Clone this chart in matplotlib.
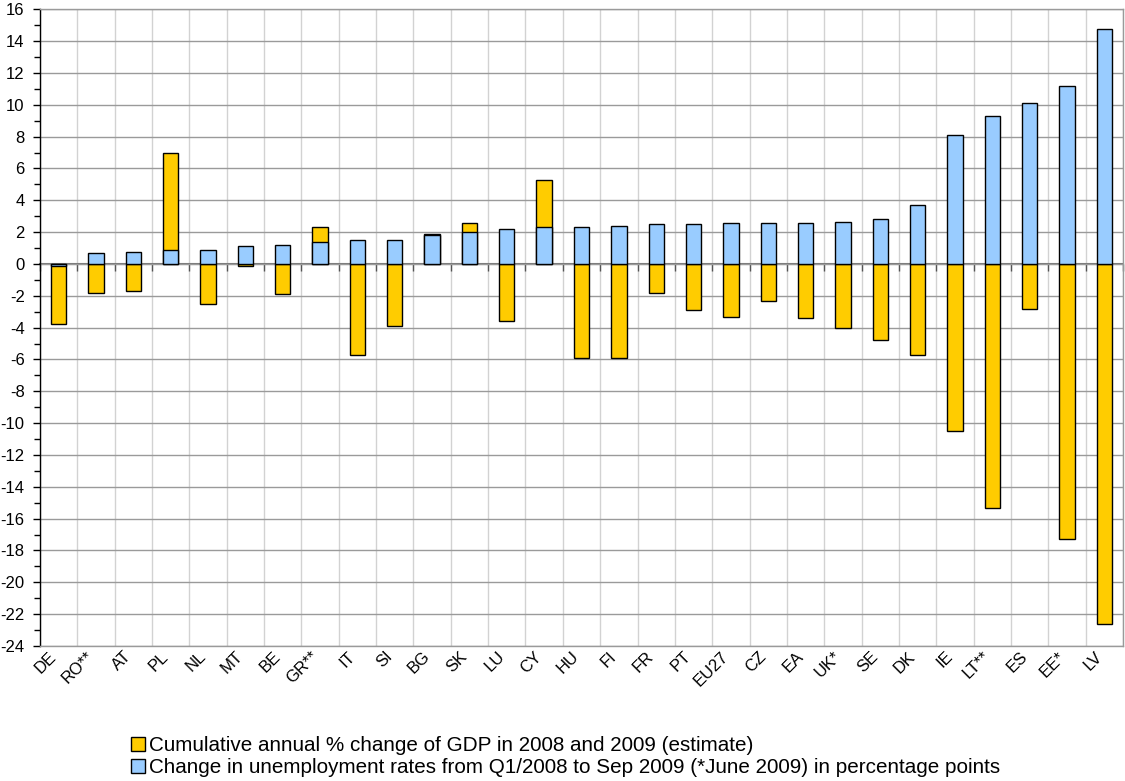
import numpy as np
import matplotlib
matplotlib.use("Agg")
import matplotlib.pyplot as plt
import matplotlib.transforms as mtransforms
from matplotlib.patches import Patch
from matplotlib.ticker import MultipleLocator

plt.rcParams['font.family'] = ['Liberation Sans', 'DejaVu Sans']
plt.rcParams['axes.unicode_minus'] = False

countries = ["DE", "RO**", "AT", "PL", "NL", "MT", "BE", "GR**", "IT", "SI",
             "BG", "SK", "LU", "CY", "HU", "FI", "FR", "PT", "EU27", "CZ",
             "EA", "UK*", "SE", "DK", "IE", "LT**", "ES", "EE*", "LV"]

gdp_change = [-3.8, -1.8, -1.7, 7.0, -2.5, -0.1, -1.9, 2.3, -5.7, -3.9,
              1.9, 2.6, -3.6, 5.25, -5.9, -5.9, -1.8, -2.9, -3.3, -2.3,
              -3.4, -4.0, -4.8, -5.7, -10.5, -15.3, -2.8, -17.3, -22.6]

unemp_change = [-0.1, 0.7, 0.75, 0.85, 0.9, 1.1, 1.2, 1.4, 1.5, 1.5,
                1.8, 2.0, 2.2, 2.3, 2.3, 2.4, 2.5, 2.5, 2.55, 2.6,
                2.6, 2.65, 2.8, 3.7, 8.1, 9.3, 10.1, 11.2, 14.75]

gdp_label = "Cumulative annual % change of GDP in 2008 and 2009 (estimate)"
unemp_label = ("Change in unemployment rates from Q1/2008 to Sep 2009 "
               "(*June 2009) in percentage points")

gold = "#FFCC00"
blue = "#99CCFF"

fig = plt.figure(figsize=(11.25, 7.81), dpi=100)
ax = fig.add_axes([40 / 1125, 1 - 646 / 781, 1083 / 1125, (646 - 9.3) / 781])

x = np.arange(len(countries))
width = 0.41

ax.bar(x, gdp_change, width, color=gold, edgecolor="black", linewidth=1.0,
       zorder=3)
ax.bar(x, unemp_change, width, color=blue, edgecolor="black", linewidth=1.0,
       zorder=4)

ax.set_xlim(-0.5, len(countries) - 0.5)
ax.set_ylim(-24, 16)

# grid: horizontal every 2, vertical between categories
ax.yaxis.set_major_locator(MultipleLocator(2))
ax.yaxis.set_minor_locator(MultipleLocator(1))
ax.grid(axis="y", which="major", color="#9a9a9a", linewidth=1.0, zorder=0)
for b in np.arange(len(countries) + 1) - 0.5:
    ax.axvline(b, color="#d2d2d2", linewidth=1.0, zorder=0)

ax.tick_params(axis="y", which="major", direction="out", length=5,
               width=1.0, color="black", labelsize=12, pad=6)
ax.tick_params(axis="y", which="minor", direction="out", length=4,
               width=1.0, color="black")

ax.set_xticks(x)
ax.set_xticklabels(countries, rotation=45, ha="right", va="top",
                   rotation_mode="anchor", fontsize=12)
ax.tick_params(axis="x", length=0, pad=2)
shift = mtransforms.ScaledTranslation(-10 / 100, 0, fig.dpi_scale_trans)
for lbl in ax.get_xticklabels():
    lbl.set_transform(lbl.get_transform() + shift)

for side in ("top", "right", "bottom"):
    ax.spines[side].set_color("#9a9a9a")
    ax.spines[side].set_linewidth(1.0)
ax.spines["left"].set_color("black")
ax.spines["left"].set_linewidth(1.0)

# zero axis with category-boundary ticks
zero_axis = ax.secondary_xaxis(0, transform=ax.transData)
zero_axis.set_xticks(np.arange(len(countries) + 1) - 0.5)
zero_axis.set_xticklabels([])
zero_axis.tick_params(direction="out", length=5, width=1.0, color="#555555")
zero_axis.spines["bottom"].set_color("#777777")
zero_axis.spines["bottom"].set_linewidth(1.5)
zero_axis.spines["bottom"].set_zorder(5)

handles = [Patch(facecolor=gold, edgecolor="black", linewidth=1.0),
           Patch(facecolor=blue, edgecolor="black", linewidth=1.0)]
fig.legend(handles, [gdp_label, unemp_label], loc="upper left",
           bbox_to_anchor=(131 / 1125, 1 - 736 / 781), frameon=False,
           fontsize=14.9, handlelength=0.68, handleheight=0.68,
           handletextpad=0.2, labelspacing=0.15, borderaxespad=0,
           borderpad=0)

fig.savefig("out.png", dpi=100)
